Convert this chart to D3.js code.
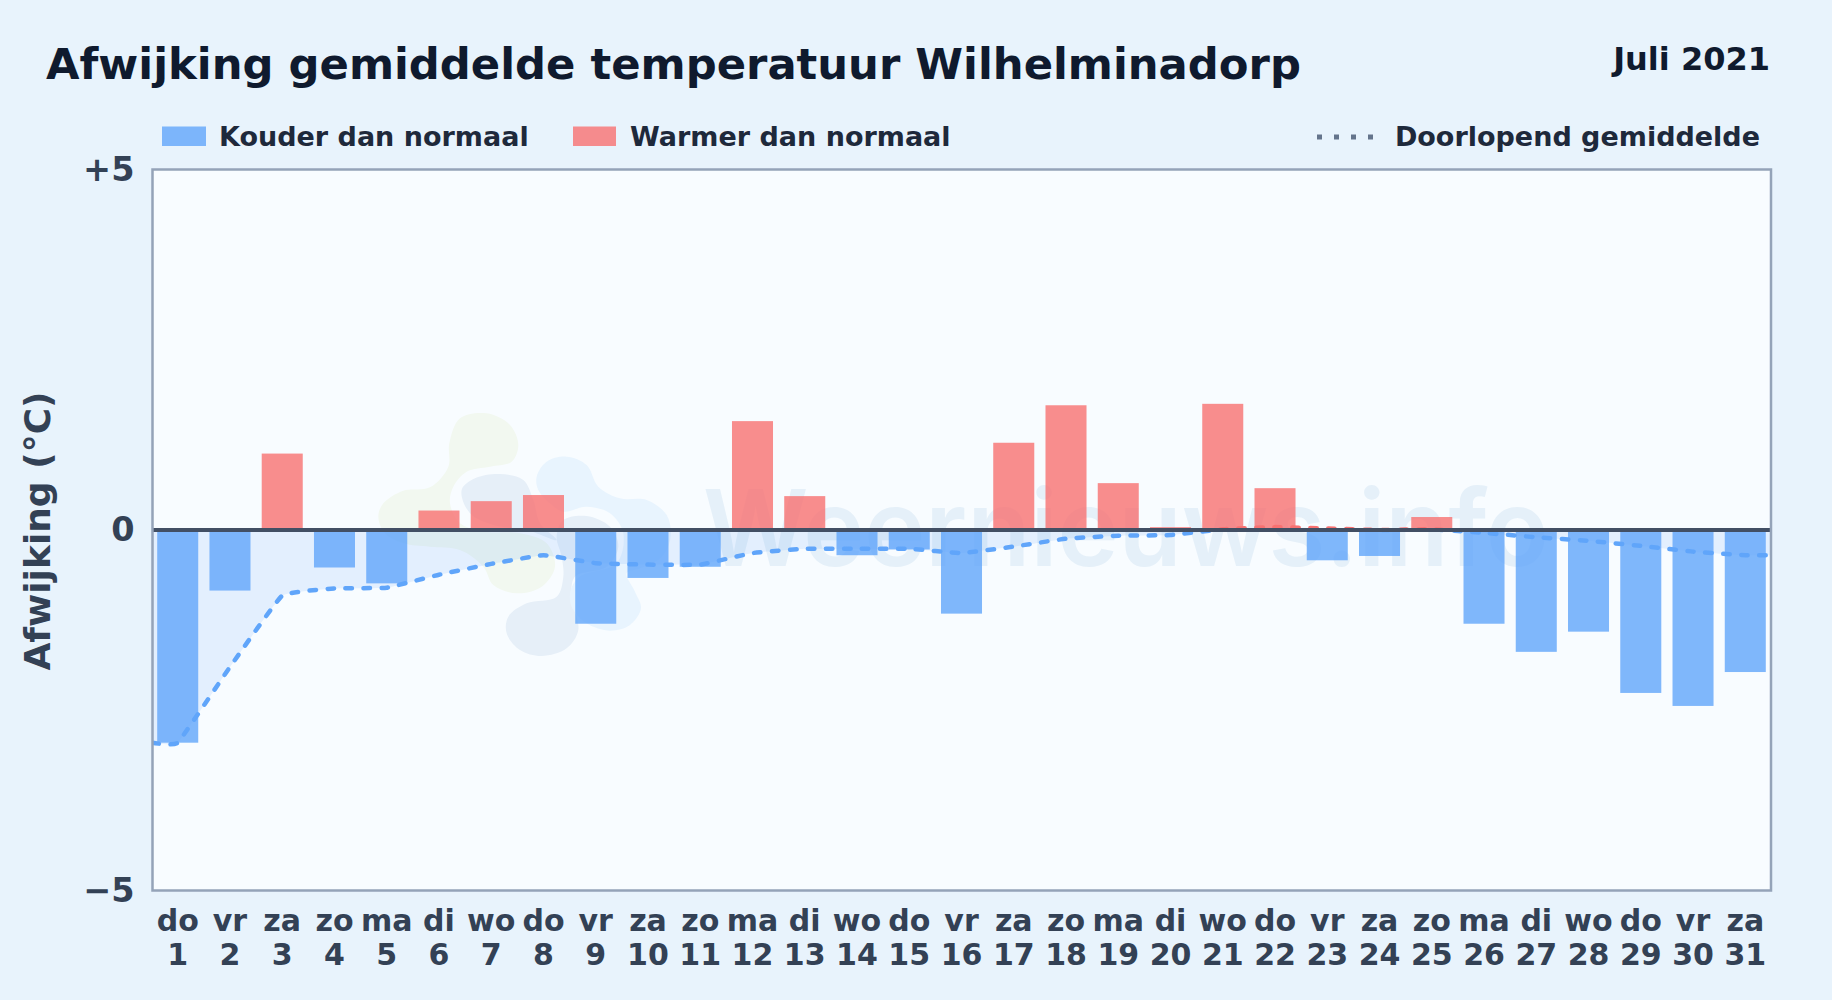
<!DOCTYPE html>
<html>
<head>
<meta charset="utf-8">
<title>Afwijking gemiddelde temperatuur Wilhelminadorp</title>
<script src="https://cdn.jsdelivr.net/npm/d3@7"></script>
<style>
  html, body { margin: 0; padding: 0; background: #e8f3fc; }
  svg { display: block; }
  text { font-family: "DejaVu Sans", sans-serif; font-weight: 700; }
</style>
</head>
<body>
<div id="chart"></div>
<script>
// chart values
var days = ["1","2","3","4","5","6","7","8","9","10","11","12","13","14","15","16","17","18","19","20","21","22","23","24","25","26","27","28","29","30","31"];
var weekdays = ["do","vr","za","zo","ma","di","wo","do","vr","za","zo","ma","di","wo","do","vr","za","zo","ma","di","wo","do","vr","za","zo","ma","di","wo","do","vr","za"];
var deviation = [-2.95,-0.84,1.06,-0.52,-0.74,0.27,0.40,0.485,-1.30,-0.665,-0.51,1.51,0.47,-0.35,-0.27,-1.16,1.21,1.73,0.65,0.04,1.75,0.58,-0.42,-0.36,0.18,-1.30,-1.69,-1.41,-2.26,-2.44,-1.97];
var runningMean = [-2.95,-1.90,-0.91,-0.81,-0.80,-0.62,-0.47,-0.35,-0.46,-0.48,-0.48,-0.32,-0.26,-0.26,-0.26,-0.32,-0.23,-0.12,-0.08,-0.07,0.01,0.04,0.02,0.00,0.01,-0.04,-0.10,-0.15,-0.22,-0.30,-0.35];
var yTicks = [5, 0, -5];
var yTickLabels = ["+5", "0", "\u22125"];

var width = 1832;
var height = 1000;
var plot = { left: 152.5, right: 1771, top: 169.5, bottom: 890.5 };

var blue = "#60a5fa";
var red = "#f87171";
var slate = "#334155";

var svg = d3.select("#chart").append("svg")
    .attr("width", width)
    .attr("height", height);

var xScale = d3.scaleBand().domain(days).range([151.6, 1771.4]).paddingInner(0.215).paddingOuter(0.1075);
var yScale = d3.scaleLinear().domain([-5, 5]).range([plot.bottom, plot.top]);

var defs = svg.append("defs");
defs.append("clipPath").attr("id", "plot-clip").append("rect")
    .attr("x", plot.left).attr("y", plot.top)
    .attr("width", plot.right - plot.left).attr("height", plot.bottom - plot.top);

// line colour flips at the zero line
var lineGrad = defs.append("linearGradient").attr("id", "line-grad")
    .attr("gradientUnits", "userSpaceOnUse")
    .attr("x1", 0).attr("x2", 0).attr("y1", plot.top).attr("y2", plot.bottom);
var zeroOffset = (yScale(0) - plot.top) / (plot.bottom - plot.top);
lineGrad.append("stop").attr("offset", zeroOffset).attr("stop-color", red);
lineGrad.append("stop").attr("offset", zeroOffset).attr("stop-color", blue);

// page + plot background
svg.append("rect").attr("width", width).attr("height", height).attr("fill", "#e8f3fc");
svg.append("rect")
    .attr("x", plot.left).attr("y", plot.top)
    .attr("width", plot.right - plot.left).attr("height", plot.bottom - plot.top)
    .attr("fill", "#f8fcff");

// watermark behind the data
drawWatermark();

var center = function (d) { return xScale(d) + xScale.bandwidth() / 2; };

// running mean runs on to both plot edges
var meanPoints = days.map(function (d, i) { return [center(d), yScale(runningMean[i])]; });
meanPoints.unshift([plot.left, yScale(runningMean[0])]);
meanPoints.push([plot.right, yScale(runningMean[runningMean.length - 1])]);

var meanCurve = d3.curveCardinal.tension(0.7);
var chart = svg.append("g").attr("clip-path", "url(#plot-clip)");

chart.append("path")
    .attr("d", d3.area().x(function (p) { return p[0]; }).y0(yScale(0)).y1(function (p) { return p[1]; }).curve(meanCurve)(meanPoints))
    .attr("fill", "rgba(96,165,250,0.14)");

chart.selectAll(".bar").data(days).enter().append("rect")
    .attr("class", "bar")
    .attr("x", function (d) { return xScale(d); })
    .attr("width", xScale.bandwidth())
    .attr("y", function (d, i) { return yScale(Math.max(0, deviation[i])); })
    .attr("height", function (d, i) { return Math.abs(yScale(deviation[i]) - yScale(0)); })
    .attr("fill", function (d, i) { return deviation[i] < 0 ? blue : red; })
    .attr("opacity", 0.8);

chart.append("path")
    .attr("d", d3.line().curve(meanCurve)(meanPoints))
    .attr("fill", "none")
    .attr("stroke", "url(#line-grad)")
    .attr("stroke-width", 4.5)
    .attr("stroke-linecap", "round")
    .attr("stroke-dasharray", "6.5 11.5");

svg.append("line")
    .attr("x1", plot.left).attr("x2", plot.right)
    .attr("y1", yScale(0)).attr("y2", yScale(0))
    .attr("stroke", "#424f64")
    .attr("stroke-width", 4);

// plot frame
svg.append("rect")
    .attr("x", plot.left).attr("y", plot.top)
    .attr("width", plot.right - plot.left).attr("height", plot.bottom - plot.top)
    .attr("fill", "none")
    .attr("stroke", "#94a3b8")
    .attr("stroke-width", 2.5);

// axes
var yAxis = svg.append("g")
    .attr("transform", "translate(" + plot.left + ",0)")
    .call(d3.axisLeft(yScale).tickValues(yTicks).tickSize(0).tickPadding(18)
        .tickFormat(function (d, i) { return yTickLabels[i]; }));
yAxis.select(".domain").remove();
yAxis.selectAll("text")
    .attr("fill", slate)
    .style("font-size", "33.5px")
    .style("font-family", '"DejaVu Sans", sans-serif')
    .style("font-weight", 700);

var xAxis = svg.append("g")
    .attr("transform", "translate(0," + plot.bottom + ")")
    .call(d3.axisBottom(xScale).tickSize(0).tickPadding(0).tickFormat(""));
xAxis.select(".domain").remove();
xAxis.selectAll("text").remove();
var dayTicks = xAxis.selectAll(".tick");
dayTicks.append("text")
    .attr("y", 40)
    .attr("text-anchor", "middle")
    .attr("fill", slate)
    .style("font-size", "30px")
    .text(function (d, i) { return weekdays[i]; });
dayTicks.append("text")
    .attr("y", 74.5)
    .attr("text-anchor", "middle")
    .attr("fill", slate)
    .style("font-size", "30px")
    .text(function (d) { return d; });

svg.append("text")
    .attr("transform", "translate(50,531) rotate(-90)")
    .attr("text-anchor", "middle")
    .attr("fill", slate)
    .style("font-size", "36px")
    .text("Afwijking (\u00b0C)");

// titles
svg.append("text")
    .attr("x", 46).attr("y", 79)
    .attr("fill", "#0f1a2e")
    .style("font-size", "43.3px")
    .text("Afwijking gemiddelde temperatuur Wilhelminadorp");
svg.append("text")
    .attr("x", 1770).attr("y", 70)
    .attr("text-anchor", "end")
    .attr("fill", "#0f1a2e")
    .style("font-size", "32px")
    .text("Juli 2021");

// legend
var legend = svg.append("g");
legend.append("rect").attr("x", 162).attr("y", 126.5).attr("width", 44).attr("height", 19.5).attr("fill", blue).attr("opacity", 0.8);
legend.append("text").attr("x", 219).attr("y", 146).attr("fill", "#1e293b").style("font-size", "27px").text("Kouder dan normaal");
legend.append("rect").attr("x", 573).attr("y", 126.5).attr("width", 43).attr("height", 19.5).attr("fill", red).attr("opacity", 0.8);
legend.append("text").attr("x", 630).attr("y", 146).attr("fill", "#1e293b").style("font-size", "27px").text("Warmer dan normaal");
legend.append("line").attr("x1", 1317).attr("x2", 1374).attr("y1", 137).attr("y2", 137)
    .attr("stroke", "#64748b").attr("stroke-width", 5).attr("stroke-dasharray", "5 12");
legend.append("text").attr("x", 1760).attr("y", 146).attr("text-anchor", "end").attr("fill", "#1e293b").style("font-size", "27px").text("Doorlopend gemiddelde");

function drawWatermark() {
    var mark = svg.append("g").attr("transform", "translate(360,400) scale(0.3333)");
    var blob = d3.line().curve(d3.curveCatmullRomClosed);
    var green = [[300,55],[380,40],[450,75],[475,135],[455,185],[390,200],[320,215],[280,260],[270,310],[300,370],[380,395],[480,400],[560,430],[585,500],[545,560],[470,580],[400,555],[370,500],[300,450],[210,440],[130,430],[75,400],[55,350],[70,310],[130,272],[210,262],[265,200],[268,130]];
    var grey1 = [[305,270],[345,235],[420,222],[490,240],[520,300],[540,370],[590,420],[500,390],[400,375],[330,340]];
    var grey2 = [[610,360],[680,348],[750,380],[775,440],[740,500],[645,530],[635,590],[655,690],[620,745],[545,768],[480,750],[440,700],[445,650],[500,610],[590,590],[610,530],[605,470],[590,410]];
    var sky = [[530,230],[560,185],[620,170],[680,195],[715,260],[780,295],[860,300],[920,345],[932,410],[905,470],[840,505],[800,520],[825,575],[843,625],[810,675],[750,692],[680,670],[635,620],[632,570],[660,530],[770,490],[790,400],[750,340],[680,320],[610,335],[570,310],[535,270]];
    mark.append("path").attr("d", blob(green)).attr("fill", "#f2f8f0");
    mark.append("path").attr("d", blob(grey1)).attr("fill", "#e6eff8");
    mark.append("path").attr("d", blob(grey2)).attr("fill", "#e6eff8");
    mark.append("path").attr("d", blob(sky)).attr("fill", "#e8f4fe");

    svg.append("text")
        .attr("x", 703).attr("y", 566)
        .attr("fill", "#e5f0f9")
        .attr("textLength", 846)
        .attr("lengthAdjust", "spacingAndGlyphs")
        .style("font-family", 'Inter, sans-serif')
        .style("font-weight", 570)
        .style("font-size", "106px")
        .text("Weernieuws.info");
}
</script>
</body>
</html>
